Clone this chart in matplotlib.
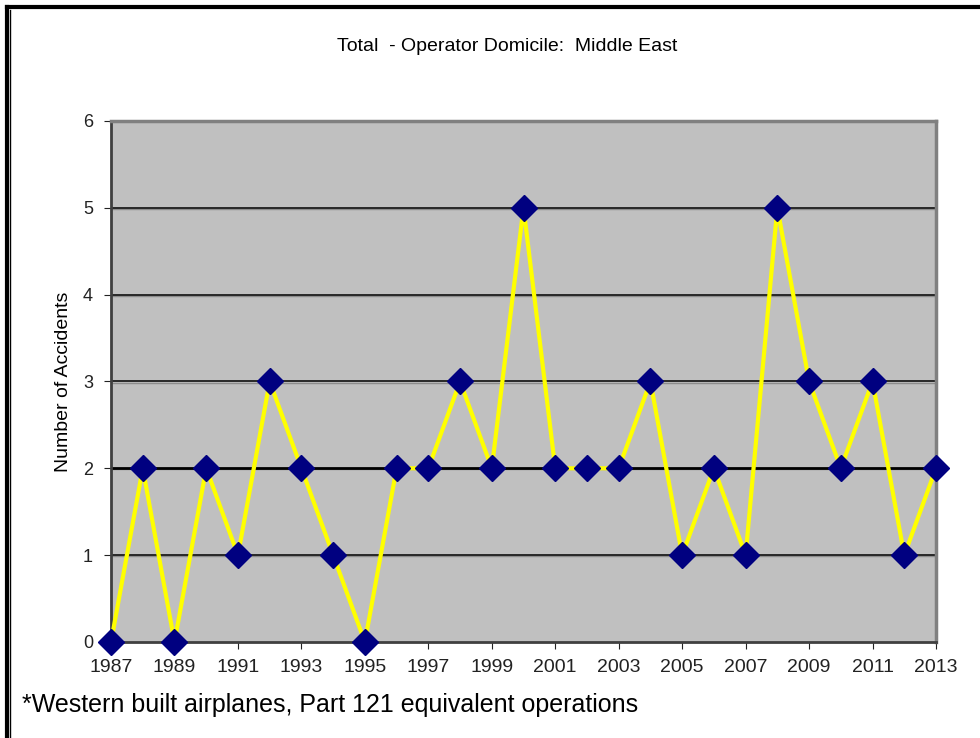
import matplotlib.pyplot as plt
from matplotlib.lines import Line2D

plt.rcParams['font.family'] = ['Liberation Sans', 'DejaVu Sans']

years = list(range(1987, 2014))
accidents = [0, 2, 0, 2, 1, 3, 2, 1, 0, 2, 2, 3, 2, 5, 2, 2, 2, 3, 1, 2, 1, 5, 3, 2, 3, 1, 2]
year_ticks = list(range(1987, 2014, 2))
y_ticks = [0, 1, 2, 3, 4, 5, 6]

fig = plt.figure(figsize=(9.8, 7.38), dpi=100)
ax = fig.add_axes([0.1133, 0.1301, 0.8418, 0.706])
ax.set_facecolor('#C0C0C0')

# gridlines with a faint shadow underneath, like the original
for v in y_ticks[1:-1]:
    ax.axhline(v - 0.012, color='#8C8C8C', lw=1, zorder=1)
    ax.axhline(v, color='black', lw=2 if v == 2 else 1.1, zorder=1.5)

ax.plot(years, accidents, color='#FFFF00', lw=3, zorder=3, clip_on=False)
ax.plot(years, accidents, ls='none', marker='D', ms=13, color='#000080', zorder=4, clip_on=False)

ax.set_xlim(1987, 2013)
ax.set_ylim(0, 6)
ax.set_xticks(year_ticks)
ax.set_yticks(y_ticks)
ax.tick_params(axis='x', labelsize=14, direction='out', length=5, pad=7, colors='#222222')
ax.tick_params(axis='y', labelsize=13, direction='out', length=5, pad=8, colors='#222222')

for s in ['top', 'right']:
    ax.spines[s].set_color('#808080')
    ax.spines[s].set_linewidth(2.5)
for s in ['left', 'bottom']:
    ax.spines[s].set_color('#404040')
    ax.spines[s].set_linewidth(2)

ax.set_ylabel('Number of Accidents', fontsize=14, labelpad=8)
fig.text(0.518, 0.937, 'Total  - Operator Domicile:  Middle East', ha='center', va='center', fontsize=14)
fig.text(0.022, 0.045, '*Western built airplanes, Part 121 equivalent operations', ha='left', va='center', fontsize=18)

# border
fig.add_artist(Line2D([0.007, 1.0], [0.991, 0.991], color='black', lw=3, transform=fig.transFigure))
fig.add_artist(Line2D([0.007, 0.007], [0.0, 0.991], color='black', lw=3, transform=fig.transFigure))
fig.add_artist(Line2D([0.0107, 0.0107], [0.0, 0.987], color='black', lw=1, transform=fig.transFigure))

fig.savefig('out.png', dpi=100)
